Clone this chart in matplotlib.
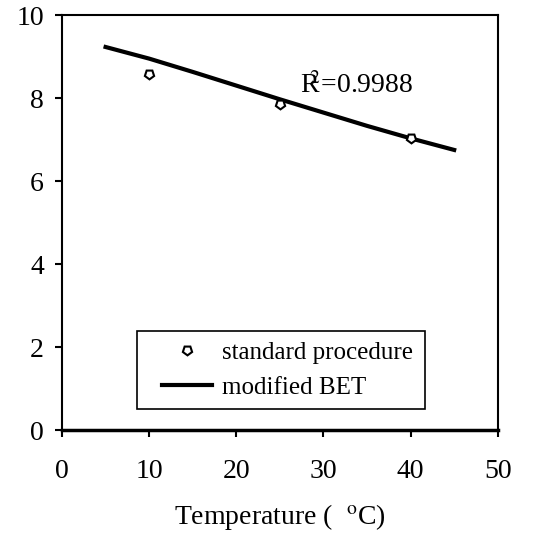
import numpy as np
import matplotlib.pyplot as plt
from matplotlib.patches import Rectangle

plt.rcParams['font.family'] = ['Liberation Serif', 'DejaVu Serif']
plt.rcParams['mathtext.fontset'] = 'stix'

# measured points (standard procedure)
temp_pts = [10, 25, 40]
val_pts = [8.58, 7.85, 7.04]

# modified BET curve
temp_fit = [5, 10, 15, 20, 25, 30, 35, 40, 45]
val_fit = [9.23, 8.95, 8.63, 8.30, 7.97, 7.65, 7.33, 7.03, 6.75]

xticks = [0, 10, 20, 30, 40, 50]
yticks = [0, 2, 4, 6, 8, 10]

fig = plt.figure(figsize=(5.44, 5.37), dpi=100)
ax = fig.add_axes([0.114, 0.199, 0.801, 0.773])

ax.plot(temp_pts, val_pts, linestyle='none', marker=(5, 0, 180), markersize=7,
        markerfacecolor='white', markeredgecolor='black', markeredgewidth=1.5,
        label='standard procedure', zorder=3)
ax.plot(temp_fit, val_fit, color='black', linewidth=3, label='modified BET', zorder=2)

ax.text(27.3, 8.3, 'R$^{\\!\\!\\!\\!2}$=0.9988', fontsize=20, va='center', ha='left')

ax.set_xlim(0, 50)
ax.set_ylim(0, 10)
ax.set_xticks(xticks)
ax.set_yticks(yticks)
ax.tick_params(axis='both', direction='out', length=5, width=1.5, labelsize=20, pad=8)
ax.tick_params(axis='x', pad=16)
for s in ax.spines.values():
    s.set_linewidth(1.5)
ax.spines['bottom'].set_linewidth(2.5)

ax.set_xlabel('Temperature (  $^{\\rm o}$C)', fontsize=20, labelpad=13)

# legend frame drawn separately so the entries can sit inset like the original
ax.add_patch(Rectangle((0.172, 0.05), 0.66, 0.19, transform=ax.transAxes,
                       facecolor='white', edgecolor='black', linewidth=1.2, zorder=4))
leg = ax.legend(loc='center left', bbox_to_anchor=(0.23, 0.145),
                fontsize=18, frameon=False, borderpad=0, handlelength=2.0,
                handletextpad=0.4, labelspacing=0.5, borderaxespad=0)
leg.set_zorder(5)

fig.savefig('out.png', dpi=100, facecolor='white')
